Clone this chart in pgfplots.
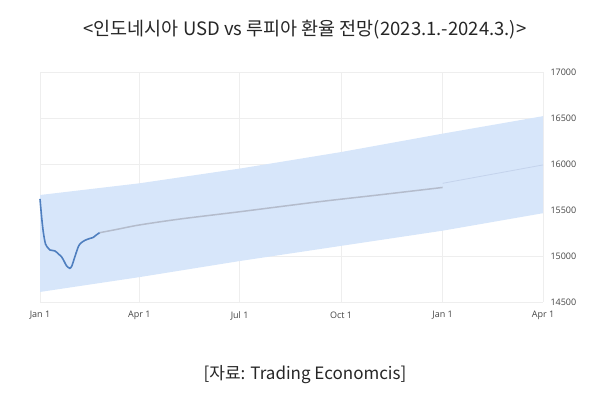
\documentclass[border=0pt]{standalone}
\usepackage{fontspec}
\setmainfont{Open Sans}
\newfontfamily\kr{Noto Sans CJK KR}
\usepackage{pgfplots}
\pgfplotsset{compat=1.18}
\definecolor{bandc}{HTML}{D7E6FA}
\definecolor{bluel}{HTML}{4F7FBF}
\definecolor{grayl}{HTML}{B4BCCC}
\definecolor{faintl}{HTML}{C4D3EC}
\definecolor{gridc}{HTML}{EEEEEE}
\definecolor{tickc}{HTML}{444444}
\begin{document}
\begin{tikzpicture}
\path[use as bounding box] (0,0) rectangle (610pt,395pt);
\begin{axis}[
  at={(40pt,93pt)}, anchor=south west,
  scale only axis, width=503pt, height=230pt,
  xmin=0, xmax=456, ymin=14500, ymax=17000,
  axis line style={draw=none},
  major tick length=0pt,
  scaled y ticks=false,
  xtick={0,90,181,273,365,456},
  xticklabels={Jan 1,Apr 1,Jul 1,Oct 1,Jan 1,Apr 1},
  ytick={14500,15000,15500,16000,16500,17000},
  yticklabels={14500,15000,15500,16000,16500,17000},
  yticklabel pos=right,
  ticklabel style={font=\fontsize{9}{10}\selectfont, text=tickc},
  yticklabel style={anchor=west, xshift=4pt},
  xticklabel style={yshift=-6pt},
  grid=major,
  major grid style={gridc, line width=0.6pt},
  clip=false,
]
\addplot[draw=none, fill=bandc] coordinates {
 (0,15663) (90,15790) (181,15950) (273,16130) (365,16330) (456,16520)
 (456,15465) (365,15275) (273,15110) (181,14945) (90,14770) (0,14609)
} -- cycle;
\addplot[faintl, line width=0.8pt, smooth] coordinates {(365,15790) (456,15990)};
\addplot[grayl, line width=1.5pt, smooth] coordinates {
 (54,15253) (70,15290) (90,15337) (127,15402) (181,15481) (253,15590) (308,15665) (365,15745)
};
\addplot[bluel, line width=1.6pt, smooth, tension=0.5] coordinates {
 (0,15620) (1.5,15420) (3,15260) (5,15130) (7.5,15085) (9,15065) (13.5,15055) (17,15020)
 (19.6,14990) (22,14940) (24,14895) (27,14866) (29,14895) (31,14970) (34.7,15100)
 (37,15140) (40.7,15170) (45,15190) (48,15200) (51,15228) (54,15253)
};
\end{axis}
\node[font=\kr\fontsize{18.5}{21}\selectfont, text=black!85] at (305pt,365pt) {<인도네시아 USD vs 루피아 환율 전망(2023.1.-2024.3.)>};
\node[font=\kr\fontsize{17}{20}\selectfont, text=black!85] at (305pt,20pt) {[자료: Trading Economcis]};
\end{tikzpicture}
\end{document}
